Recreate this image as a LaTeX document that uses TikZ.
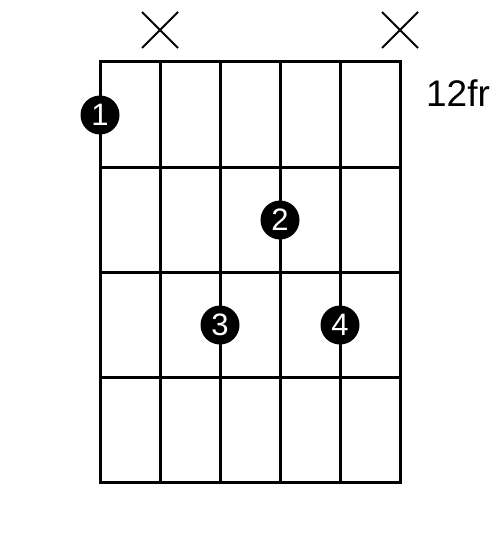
\documentclass[tikz,border=0pt]{standalone}
\usepackage{fontspec}
\setmainfont{Liberation Sans}
\begin{document}
\begin{tikzpicture}[x=1pt,y=-1pt,
  grid/.style={line width=3pt,black},
  mute/.style={line width=2pt,black},
  finger/.style={circle,fill=black,minimum size=39pt,inner sep=0pt,text=white,font=\fontsize{31}{31}\selectfont},
  fretlabel/.style={font=\fontsize{37}{37}\selectfont,inner sep=0pt}]
\useasboundingbox (0,0) rectangle (500,538);
% strings
\foreach \x in {100,160,220,280,340,400}
  \draw[grid] (\x,61) -- (\x,482);
% frets
\foreach \y in {61,167,272,377,482}
  \draw[grid,line cap=rect] (100,\y) -- (400,\y);
% muted strings
\foreach \x in {160,400}{
  \draw[mute] (\x-18,12) -- (\x+18,48);
  \draw[mute] (\x-18,48) -- (\x+18,12);
}
% fingers
\node[finger] (f1) at (100,115) {1};
\node[finger] (f2) at (280,220) {2};
\node[finger] (f3) at (220,325) {3};
\node[finger] (f4) at (340,325) {4};
% fret label
\node[fretlabel] (fr) at (458,93) {12fr};
\end{tikzpicture}
\end{document}
